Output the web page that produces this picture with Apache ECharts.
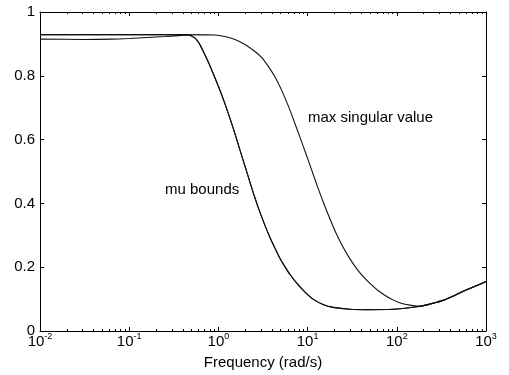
<!DOCTYPE html>
<html>
<head>
<meta charset="utf-8">
<script src="https://cdn.jsdelivr.net/npm/echarts@6/dist/echarts.min.js"></script>
<style>
  html, body { margin: 0; padding: 0; background: #fff; }
  #main { width: 509px; height: 375px; }
</style>
</head>
<body>
<div id="main"></div>
<script>
// frequency given as log10(rad/s)
const logFreqMax = [-2, -1, -0.5, -0.038, 0.074, 0.186, 0.298, 0.410, 0.489, 0.556, 0.635, 0.713, 0.780, 0.848, 0.915, 0.982, 1.049, 1.117, 1.184, 1.251, 1.318, 1.397, 1.475, 1.554, 1.632, 1.711, 1.789, 1.879, 1.969, 2.058, 2.148, 2.238, 2.339, 2.42, 2.52, 2.62, 2.71, 2.85, 3.0];
const maxSingular = [0.929, 0.929, 0.929, 0.928, 0.923, 0.914, 0.898, 0.876, 0.856, 0.831, 0.796, 0.752, 0.708, 0.658, 0.607, 0.555, 0.502, 0.448, 0.398, 0.351, 0.307, 0.263, 0.226, 0.194, 0.168, 0.146, 0.127, 0.110, 0.096, 0.086, 0.081, 0.078, 0.082, 0.088, 0.096, 0.108, 0.120, 0.137, 0.155];

const logFreqMu = [-2, -1, -0.5, -0.341, -0.262, -0.206, -0.150, -0.094, -0.038, 0.018, 0.074, 0.130, 0.186, 0.242, 0.298, 0.354, 0.410, 0.466, 0.522, 0.578, 0.635, 0.691, 0.747, 0.803, 0.881, 0.971, 1.061, 1.173, 1.285, 1.475, 1.666, 1.957, 2.226, 2.339, 2.42, 2.52, 2.62, 2.71, 2.85, 3.0];
const muUpper = [0.929, 0.929, 0.929, 0.928, 0.918, 0.897, 0.865, 0.831, 0.793, 0.754, 0.712, 0.666, 0.618, 0.567, 0.517, 0.466, 0.417, 0.372, 0.331, 0.293, 0.259, 0.227, 0.201, 0.177, 0.149, 0.122, 0.100, 0.083, 0.074, 0.068, 0.067, 0.068, 0.076, 0.082, 0.088, 0.096, 0.108, 0.120, 0.137, 0.155];

// lower bound differs only at low frequency, then follows the upper bound
const logFreqLowStart = [-2, -1.5, -1.2, -1.0, -0.8, -0.6, -0.45];
const muLowerStart = [0.915, 0.914, 0.915, 0.917, 0.920, 0.923, 0.926];

const yTicks = [0, 0.2, 0.4, 0.6, 0.8, 1];
const minorTickLogs = [];
for (let d = -2; d < 3; d++) {
  for (let k = 2; k <= 9; k++) minorTickLogs.push(d + Math.log10(k));
}

const toPoints = (lf, v) => lf.map((x, i) => [Math.pow(10, x), v[i]]);
const muLowerLog = logFreqLowStart.concat(logFreqMu.slice(3));
const muLower = muLowerStart.concat(muUpper.slice(3));

const FONT = '"Liberation Sans", Arial, Helvetica, sans-serif';
const black = { color: '#000', width: 1 };

const lineSeries = (name, data, extra) => Object.assign({
  name: name,
  type: 'line',
  data: data,
  xAxisIndex: 0,
  yAxisIndex: 0,
  showSymbol: false,
  smooth: 0.25,
  silent: true,
  lineStyle: { color: '#111', width: 1.1 }
}, extra || {});

const labelPoint = (text, coord) => ({
  symbol: 'circle',
  symbolSize: 0,
  silent: true,
  label: { show: true, position: 'right', distance: 0, color: '#000', fontSize: 15, fontFamily: FONT },
  data: [{ coord: coord, value: text, label: { formatter: text } }]
});

const frameLine = { onZero: false, lineStyle: black };

const option = {
  animation: false,
  textStyle: { fontFamily: FONT },
  grid: { left: 40, right: 23, top: 12, bottom: 44 },
  xAxis: [
    {
      type: 'log', logBase: 10, min: 0.01, max: 1000, position: 'bottom',
      axisLine: frameLine,
      axisTick: { inside: true, length: 4, lineStyle: black },
      splitLine: { show: false },
      axisLabel: {
        margin: 1,
        formatter: v => '{b|10}{s|' + Math.round(Math.log10(v)) + '}',
        rich: {
          b: { fontSize: 15, color: '#000', fontFamily: FONT },
          s: { fontSize: 9, color: '#000', fontFamily: FONT, padding: [0, 0, 10, 0] }
        }
      },
      name: 'Frequency (rad/s)', nameLocation: 'middle', nameGap: 24,
      nameTextStyle: { color: '#000', fontSize: 15, fontFamily: FONT }
    },
    {
      type: 'log', logBase: 10, min: 0.01, max: 1000, position: 'top',
      axisLine: frameLine,
      axisTick: { inside: true, length: 4, lineStyle: black },
      axisLabel: { show: false }, splitLine: { show: false }
    },
    {
      type: 'value', min: -2, max: 3, position: 'bottom',
      axisLine: { show: false, onZero: false },
      axisTick: { inside: true, length: 2, lineStyle: black, customValues: minorTickLogs },
      axisLabel: { show: false }, splitLine: { show: false }
    },
    {
      type: 'value', min: -2, max: 3, position: 'top',
      axisLine: { show: false, onZero: false },
      axisTick: { inside: true, length: 2, lineStyle: black, customValues: minorTickLogs },
      axisLabel: { show: false }, splitLine: { show: false }
    }
  ],
  yAxis: [
    {
      type: 'value', min: 0, max: 1, interval: 0.2, position: 'left',
      axisLine: Object.assign({ show: true }, frameLine),
      axisTick: { show: true, inside: true, length: 4, lineStyle: black, customValues: yTicks },
      axisLabel: { color: '#000', fontSize: 15, fontFamily: FONT, margin: 5, customValues: yTicks },
      splitLine: { show: false }
    },
    {
      type: 'value', min: 0, max: 1, interval: 0.2, position: 'right',
      axisLine: Object.assign({ show: true }, frameLine),
      axisTick: { show: true, inside: true, length: 4, lineStyle: black },
      axisLabel: { show: false }, splitLine: { show: false }
    }
  ],
  series: [
    lineSeries('max singular value', toPoints(logFreqMax, maxSingular), {
      markPoint: labelPoint('max singular value', [10.1, 0.668])
    }),
    lineSeries('mu upper bound', toPoints(logFreqMu, muUpper), {
      markPoint: labelPoint('mu bounds', [0.252, 0.442])
    }),
    lineSeries('mu lower bound', toPoints(muLowerLog, muLower))
  ]
};

const myChart = echarts.init(document.getElementById('main'), null, { renderer: 'canvas' });
myChart.setOption(option);
</script>
</body>
</html>
